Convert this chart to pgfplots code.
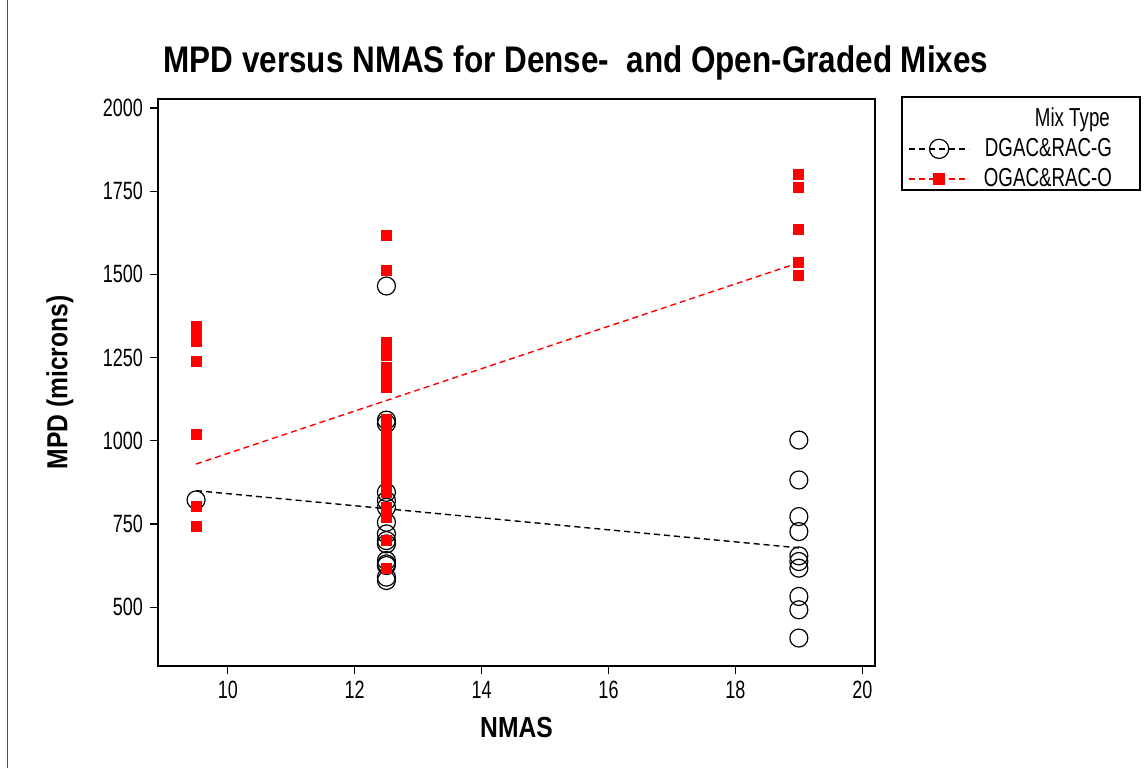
\documentclass[border=0pt]{standalone}
\usepackage{fontspec}
\setmainfont{Liberation Sans}[FakeStretch=0.85]
\newfontfamily\narrow{Liberation Sans}[FakeStretch=0.72]
\usepackage{pgfplots}
\pgfplotsset{compat=1.18}
\definecolor{ogred}{RGB}{255,0,0}

\begin{document}
\begin{tikzpicture}
% page frame: 1145x768 px at 0.5pt per px, axis box lower-left at origin
\useasboundingbox (-79pt,-51pt) rectangle (493.5pt,333pt);
\draw[line width=0.5pt, black!70] (-75pt,-51pt) -- (-75pt,333pt);
\begin{axis}[
  scale only axis,
  width=358.5pt, height=283.5pt,
  xmin=8.9, xmax=20.2, ymin=323, ymax=2027,
  xtick={10,12,14,16,18,20},
  ytick={500,750,1000,1250,1500,1750,2000},
  tick align=outside, xtick pos=bottom, ytick pos=left,
  major tick length=4pt,
  tick style={black, line width=0.6pt},
  axis line style={line width=0.8pt},
  /pgf/number format/assume math mode=true,
  /pgf/number format/1000 sep={},
  tick label style={font=\narrow\fontsize{12.5}{14}\selectfont},
  title={MPD versus NMAS for Dense-\ \ and Open-Graded Mixes},
  title style={font=\fontsize{18.5}{22}\selectfont\bfseries, at={(axis description cs:0.583,1.0425)}, anchor=center, yshift=0pt},
  xlabel={NMAS}, ylabel={MPD (microns)},
  label style={font=\fontsize{14.5}{17}\selectfont\bfseries},
  xlabel style={at={(axis description cs:0.5,-0.109)}, anchor=center},
  ylabel style={at={(axis description cs:-0.137,0.5)}, anchor=center},
  legend cell align=right,
  legend style={at={(axis description cs:1.0377,1.0035)}, anchor=north west,
    draw=none, fill=none, font=\narrow\fontsize{13}{15}\selectfont, row sep=0.5pt, inner xsep=3pt, inner ysep=3pt},
  legend image code/.code={\draw[mark repeat=2,mark phase=2,#1] plot coordinates {(0pt,0pt)(15pt,0pt)(30pt,0pt)};},
  clip=false,
]
\addlegendimage{empty legend}
\addlegendentry{\makebox[78pt][r]{Mix Type\hspace*{10pt}}}
\addlegendimage{black, line width=0.7pt, dash pattern=on 3pt off 2pt, mark=o, mark size=4.8pt, mark options={solid, line width=0.6pt}}
\addlegendentry{\makebox[78pt][r]{DGAC\&RAC-G\hspace*{9pt}}}
\addlegendimage{ogred, line width=0.7pt, dash pattern=on 3pt off 2pt, mark=square*, mark size=2.5pt, mark options={solid}}
\addlegendentry{\makebox[78pt][r]{OGAC\&RAC-O\hspace*{9pt}}}

% legend frame
\draw[line width=0.6pt] (axis description cs:1.0377,1.0035) rectangle (axis description cs:1.3696,0.8395);

% fitted lines
\addplot[black, line width=0.7pt, dash pattern=on 3pt off 2pt, forget plot] coordinates {(9.5,850) (19,678)};
\addplot[ogred, line width=0.7pt, dash pattern=on 3pt off 2pt, forget plot] coordinates {(9.5,930) (19,1535)};

% DGAC & RAC-G
\addplot[only marks, black, mark=o, mark size=4.5pt, mark options={line width=0.6pt}, forget plot] coordinates {
(9.5,822)
(12.5,1465) (12.5,1062) (12.5,1052) (12.5,845) (12.5,820) (12.5,800) (12.5,755)
(12.5,720) (12.5,700) (12.5,690) (12.5,640) (12.5,630) (12.5,625) (12.5,590) (12.5,580)
(19,1002) (19,882) (19,772) (19,727) (19,654) (19,637) (19,617) (19,532) (19,492) (19,407)
};
% OGAC & RAC-O
\addplot[only marks, ogred, mark=square*, mark size=2.5pt, forget plot] coordinates {
(9.5,1343) (9.5,1313) (9.5,1298) (9.5,1238) (9.5,1020) (9.5,804) (9.5,742)
(12.5,1617) (12.5,1511) (12.5,1297) (12.5,1282) (12.5,1255) (12.5,1220) (12.5,1205)
(12.5,1190) (12.5,1175) (12.5,1160) (12.5,1065) (12.5,1055) (12.5,1045) (12.5,1030)
(12.5,1010) (12.5,990) (12.5,975) (12.5,960) (12.5,940) (12.5,925) (12.5,905)
(12.5,890) (12.5,870) (12.5,855) (12.5,845) (12.5,800) (12.5,785) (12.5,770)
(12.5,700) (12.5,615)
(19,1801) (19,1762) (19,1636) (19,1535) (19,1497)
};
\end{axis}
\end{tikzpicture}
\end{document}
